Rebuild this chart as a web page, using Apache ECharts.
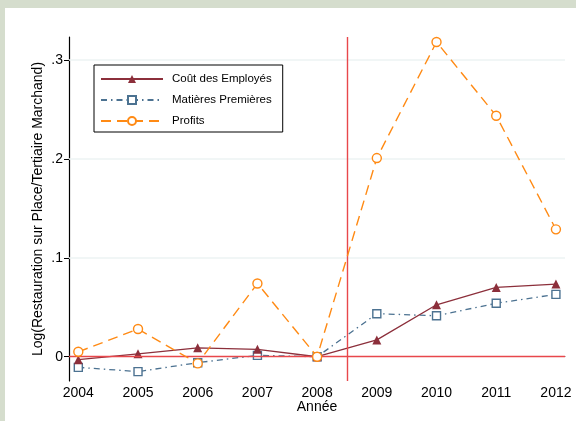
<!DOCTYPE html>
<html>
<head>
<meta charset="utf-8">
<script src="https://cdn.jsdelivr.net/npm/echarts@6/dist/echarts.min.js"></script>
<style>
  html, body { margin: 0; padding: 0; background: #d5ddcd; }
  #frame { position: absolute; left: 5px; top: 8px; right: 0; bottom: 0; background: #ffffff; }
  #chart { position: absolute; left: 0; top: 0; width: 576px; height: 421px; }
</style>
</head>
<body>
<div id="frame"></div>
<div id="chart"></div>
<script>
// Years on the horizontal axis
const years = [2004, 2005, 2006, 2007, 2008, 2009, 2010, 2011, 2012];

// Log ratio, Restauration sur Place vs Tertiaire Marchand
const coutEmployes = [-0.003, 0.003, 0.009, 0.0075, 0.0, 0.017, 0.0525, 0.070, 0.0734];
const matieresPremieres = [-0.0107, -0.015, -0.006, 0.0014, 0.0, 0.0435, 0.0414, 0.054, 0.063];
const profits = [0.005, 0.028, -0.0067, 0.074, 0.0, 0.2007, 0.318, 0.2434, 0.1287];

// Tick values and their labels on the vertical axis
const yTicks = [0, 0.1, 0.2, 0.3];
const yTickLabels = ['0', '.1', '.2', '.3'];

// Reference lines: break year and zero level
const breakYear = 2008.5;
const zeroLevel = 0;

const FONT = '"Liberation Sans", Arial, Helvetica, sans-serif';

const pair = (arr) => years.map((y, i) => [y, arr[i]]);

const chart = echarts.init(document.getElementById('chart'), null, { renderer: 'canvas' });

chart.setOption({
  backgroundColor: 'transparent',
  animation: false,
  textStyle: { fontFamily: FONT },
  grid: { left: 69, right: 11, top: 37, bottom: 40, containLabel: false, outerBoundsMode: 'none' },
  legend: {
    orient: 'vertical',
    left: 94,
    top: 65,
    padding: [8, 11, 5, 6],
    itemWidth: 62,
    itemHeight: 10,
    itemGap: 9,
    backgroundColor: '#ffffff',
    borderColor: '#000000',
    borderWidth: 1,
    borderRadius: 0,
    textStyle: { fontFamily: FONT, fontSize: 11.5, lineHeight: 10, color: '#000', padding: [0, 0, 0, 4] },
    data: ['Coût des Employés', 'Matières Premières', 'Profits']
  },
  xAxis: {
    type: 'value',
    min: 2003.844,
    max: 2012.152,
    name: 'Année',
    nameLocation: 'middle',
    nameGap: 19,
    nameMoveOverlap: false,
    nameTextStyle: { fontFamily: FONT, fontSize: 14, color: '#000' },
    axisLine: { show: true, lineStyle: { color: '#6e6e6e', width: 1.2 } },
    axisTick: { show: false, customValues: years },
    splitLine: { show: false },
    axisLabel: {
      customValues: years,
      fontFamily: FONT, fontSize: 14, color: '#000', margin: 5,
      formatter: (v) => String(Math.round(v))
    }
  },
  yAxis: {
    type: 'value',
    min: -0.0245,
    max: 0.323,
    name: 'Log(Restauration sur Place/Tertiaire Marchand)',
    nameLocation: 'middle',
    nameGap: 24,
    nameMoveOverlap: false,
    nameTextStyle: { fontFamily: FONT, fontSize: 14, color: '#000' },
    axisLine: { show: true, lineStyle: { color: '#000', width: 1.2 } },
    axisTick: { show: true, customValues: yTicks, length: 5, lineStyle: { color: '#000', width: 1 } },
    splitLine: { show: false },
    axisLabel: {
      customValues: yTicks,
      fontFamily: FONT, fontSize: 14, color: '#000', margin: 6,
      formatter: (v) => {
        const i = yTicks.findIndex(t => Math.abs(t - v) < 1e-9);
        return i >= 0 ? yTickLabels[i] : '';
      }
    }
  },
  series: [
    {
      // gridlines and reference lines
      type: 'line',
      data: [],
      silent: true,
      z: 1,
      markLine: {
        silent: true,
        symbol: 'none',
        label: { show: false },
        data: yTicks.filter(t => t !== zeroLevel).map(t => ({
          yAxis: t, lineStyle: { color: '#edf3f3', width: 1.5, type: 'solid' }
        })).concat([
          { yAxis: zeroLevel, lineStyle: { color: '#e8474b', width: 1.4, type: 'solid' } },
          { xAxis: breakYear, lineStyle: { color: '#e8474b', width: 1.4, type: 'solid' } }
        ])
      }
    },
    {
      name: 'Coût des Employés',
      type: 'line',
      data: pair(coutEmployes),
      z: 4,
      color: '#8c2f3b',
      lineStyle: { color: '#8c2f3b', width: 1.3, type: 'solid' },
      symbol: 'triangle',
      symbolSize: 9,
      itemStyle: { color: '#8c2f3b', borderColor: '#8c2f3b', borderWidth: 0 }
    },
    {
      name: 'Matières Premières',
      type: 'line',
      data: pair(matieresPremieres),
      z: 3,
      color: '#4c7291',
      lineStyle: { color: '#4c7291', width: 1.3, type: [6, 4, 1.5, 4] },
      symbol: 'rect',
      symbolSize: 8,
      itemStyle: { color: '#ffffff', borderColor: '#4c7291', borderWidth: 1.4 }
    },
    {
      name: 'Profits',
      type: 'line',
      data: pair(profits),
      z: 5,
      color: '#ff8a14',
      lineStyle: { color: '#ff8a14', width: 1.4, type: [10, 6] },
      symbol: 'circle',
      symbolSize: 9,
      itemStyle: { color: '#ffffff', borderColor: '#ff8a14', borderWidth: 1.4 }
    }
  ]
});
</script>
</body>
</html>
